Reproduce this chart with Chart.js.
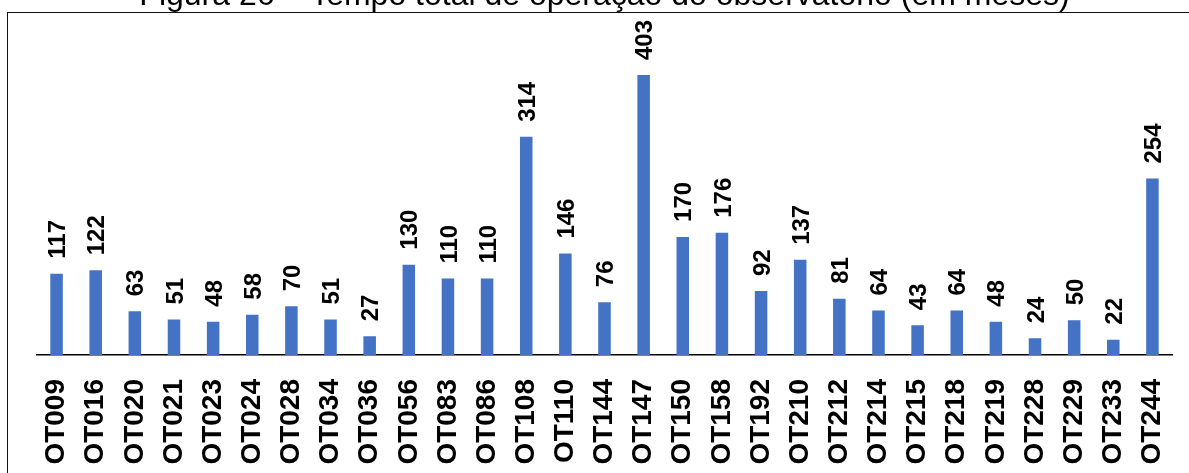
<!DOCTYPE html>
<html lang="pt">
<head>
<meta charset="utf-8">
<title>Tempo total de operação do observatório</title>
<script src="https://cdn.jsdelivr.net/npm/chart.js@4/dist/chart.umd.min.js"></script>
<style>
  html, body { margin: 0; padding: 0; background: #fff; overflow: hidden; }
  body { width: 1189px; height: 473px; position: relative; }
  #wrap { position: absolute; left: 0; top: -30px; width: 1189px; height: 503px; }
  #frame {
    position: absolute; left: 7px; top: 12px; width: 1400px; height: 700px;
    border-left: 1.5px solid #111; border-top: 1.5px solid #111;
    pointer-events: none; box-sizing: border-box;
  }
</style>
</head>
<body>
<div id="wrap"><canvas id="chart"></canvas></div>
<div id="frame"></div>
<script>
// Observatórios e meses de operação
const observatorios = [
  'OT009', 'OT016', 'OT020', 'OT021', 'OT023', 'OT024', 'OT028', 'OT034',
  'OT036', 'OT056', 'OT083', 'OT086', 'OT108', 'OT110', 'OT144', 'OT147',
  'OT150', 'OT158', 'OT192', 'OT210', 'OT212', 'OT214', 'OT215', 'OT218',
  'OT219', 'OT228', 'OT229', 'OT233', 'OT244'
];
const mesesOperacao = [
  117, 122, 63, 51, 48, 58, 70, 51,
  27, 130, 110, 110, 314, 146, 76, 403,
  170, 176, 92, 137, 81, 64, 43, 64,
  48, 24, 50, 22, 254
];
const tituloFigura = 'Figura 26 – Tempo total de operação do observatório (em meses)';

const FONT = "'Liberation Sans', Arial, sans-serif";

// Rótulos de valor verticais acima de cada barra
const rotulosValor = {
  id: 'rotulosValor',
  afterDatasetsDraw(chart) {
    const ctx = chart.ctx;
    const meta = chart.getDatasetMeta(0);
    const size = 24;
    ctx.save();
    ctx.font = 'bold ' + size + 'px ' + FONT;
    ctx.fillStyle = '#000';
    ctx.textAlign = 'left';
    ctx.textBaseline = 'alphabetic';
    meta.data.forEach((bar, i) => {
      const v = chart.data.datasets[0].data[i];
      ctx.save();
      ctx.translate(bar.x + size * 0.716 / 2, bar.y - 15);
      ctx.rotate(-Math.PI / 2);
      ctx.fillText(String(v), 0, 0);
      ctx.restore();
    });
    ctx.restore();
  }
};

new Chart(document.getElementById('chart'), {
  type: 'bar',
  data: {
    labels: observatorios,
    datasets: [{
      data: mesesOperacao,
      backgroundColor: '#4472C4',
      borderWidth: 0,
      categoryPercentage: 1,
      barPercentage: 0.32
    }]
  },
  options: {
    responsive: true,
    maintainAspectRatio: false,
    animation: false,
    layout: { padding: { left: 37, right: 17, top: 0, bottom: 0 } },
    plugins: {
      legend: { display: false },
      tooltip: { enabled: false },
      title: {
        display: true,
        text: tituloFigura,
        color: '#000',
        font: { family: FONT, size: 32, weight: 'normal', lineHeight: 1.2 },
        padding: { top: 7, bottom: 27 }
      }
    },
    scales: {
      x: {
        grid: { display: false },
        border: { display: true, color: '#000', width: 1.5 },
        ticks: {
          autoSkip: false,
          maxRotation: 90,
          minRotation: 90,
          padding: 16,
          color: '#000',
          font: { family: FONT, size: 28, weight: 'bold' }
        },
        afterFit(scale) {
          scale.height = 118;
          scale.paddingLeft = 0;
          scale.paddingRight = 0;
        }
      },
      y: {
        display: false,
        min: 0,
        max: 450
      }
    }
  },
  plugins: [rotulosValor]
});
</script>
</body>
</html>
